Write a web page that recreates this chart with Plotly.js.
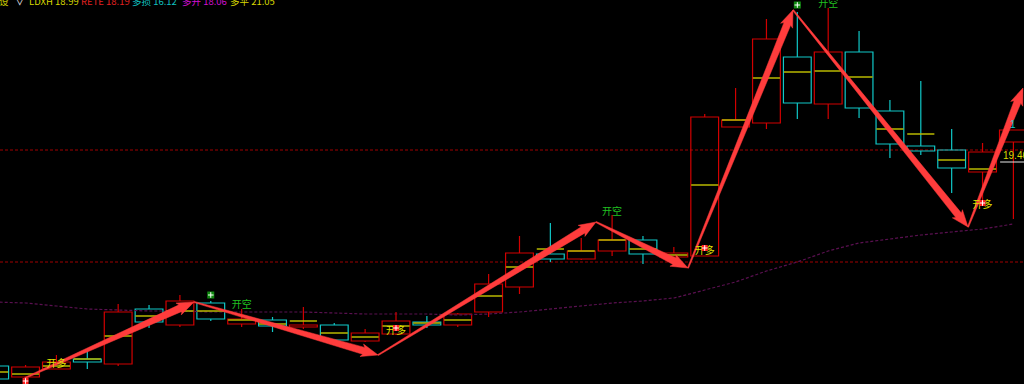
<!DOCTYPE html>
<html><head><meta charset="utf-8">
<script src="https://cdn.plot.ly/plotly-3.0.1.min.js"></script>
<style>html,body{margin:0;padding:0;background:#000;}#chart{width:1024px;height:384px;}</style>
</head><body><div id="chart"></div>
<script>
// ---- data ----
const idx   = [1,2,3,4,5,6,7,8,9,10,11,12,13,14,15,16,17,18,19,20,21,22,23,24,25,26,27,28,29,30,31,32,33,34];
const open  = [17.42,17.31,17.39,17.49,17.44,17.99,17.83,18.05,17.84,17.88,17.81,17.83,17.67,17.74,17.86,17.83,17.96,18.21,18.54,18.49,18.57,18.68,18.51,18.52,19.81,19.85,20.51,20.04,20.56,19.97,19.62,19.58,19.36,19.66];
const high  = [17.44,17.43,17.53,17.58,18.04,18.03,18.13,18.07,17.99,17.91,18.01,17.85,17.79,17.96,17.92,17.95,18.34,18.72,18.85,18.70,18.93,18.72,18.61,19.94,20.20,20.89,20.96,21.00,20.77,20.08,20.27,19.79,19.65,19.78];
const low   = [17.27,17.31,17.39,17.39,17.42,17.80,17.81,17.87,17.81,17.76,17.79,17.67,17.66,17.73,17.80,17.81,17.91,18.14,18.46,18.48,18.52,18.44,18.50,18.52,19.81,19.79,19.89,19.89,19.90,19.50,19.53,19.15,19.08,18.89];
const close = [17.29,17.41,17.46,17.46,17.96,17.86,18.07,17.89,17.89,17.82,17.83,17.68,17.75,17.87,17.83,17.94,18.24,18.55,18.49,18.57,18.68,18.54,18.55,19.91,19.88,20.69,20.05,20.56,20.00,19.64,19.57,19.40,19.56,19.78];
const midLine = [17.36,17.34,17.42,17.49,17.72,17.92,17.97,17.97,17.88,17.84,17.87,17.75,17.71,17.82,17.85,17.88,18.12,18.41,18.59,18.57,18.68,18.59,18.53,19.23,19.88,20.30,20.36,20.37,20.31,19.79,19.74,19.48,19.39,null];
const maLine = [18.06,18.05,18.02,17.99,17.98,17.97,17.97,17.96,17.96,17.96,17.96,17.95,17.94,17.94,17.94,17.93,17.94,17.96,17.99,18.02,18.05,18.07,18.10,18.18,18.26,18.37,18.46,18.57,18.65,18.69,18.73,18.76,18.79,18.84];
const pivotX = [1.98, 7.46, 13.42, 20.48, 23.46, 26.86, 32.53, 34.31];
const pivotY = [17.30, 18.06, 17.53, 18.86, 18.40, 20.98, 18.81, 20.20];
const refLines = [19.58, 18.46];
const lastPrice = 19.46;
const longMarkX = [2, 14, 24, 33];
const longMarkY = [17.27, 17.80, 18.60, 19.05];
const longTextX = [3, 14, 24, 33];
const longTextY = [17.44, 17.77, 18.57, 19.03];
const shortMarkX = [8, 27];
const shortMarkY = [18.13, 21.03];
const shortTextX = [9, 21, 28];
const shortTextY = [18.03, 18.96, 21.04];
const legendItems = ['设', '∨', 'LDXH 18.99', 'RETE 18.19', '多损 16.12', '多开 18.06', '多平 21.05'];
const legendColors = ['#c8c800', '#e0e0e0', '#d8d800', '#e02020', '#10c0c0', '#d010d0', '#d8d800'];
const legendPos = [-3, 13, 27, 79, 130, 180, 228];

// ---- geometry ----
const X0 = 1.172, X1 = 34.343, Y0 = 17.24, Y1 = 21.08, W = 1024, H = 384;
const RED = '#d20000', CYAN = '#10c8c8', YEL = '#b8b800';
const toPx = (x, y) => [(x - X0) / (X1 - X0) * W, (Y1 - y) / (Y1 - Y0) * H];
const toData = (px, py) => [X0 + px / W * (X1 - X0), Y1 - py / H * (Y1 - Y0)];

const up = idx.map((_, i) => close[i] >= open[i]);
const traces = [];

// MA line
traces.push({type:'scatter', mode:'lines', x: idx, y: maLine, line:{color:'#5a1050', width:1.2, dash:'3px,2px'}, hoverinfo:'skip'});

// candle bodies
traces.push({type:'bar', x: idx, base: idx.map((_, i) => Math.min(open[i], close[i])),
  y: idx.map((_, i) => Math.max(Math.abs(close[i] - open[i]), 0.005)), width: 0.9,
  marker:{color:'rgba(0,0,0,0)', line:{color: up.map(u => u ? RED : CYAN), width:1.2}}, hoverinfo:'skip'});

// wicks
[true, false].forEach(flag => {
  const wx = [], wy = [];
  idx.forEach((x, i) => {
    if (up[i] !== flag) return;
    const top = Math.max(open[i], close[i]), bot = Math.min(open[i], close[i]);
    if (high[i] > top) { wx.push(x, x, null); wy.push(high[i], top, null); }
    if (low[i] < bot) { wx.push(x, x, null); wy.push(bot, low[i], null); }
  });
  traces.push({type:'scatter', mode:'lines', x: wx, y: wy, line:{color: flag ? RED : CYAN, width:1.2}, hoverinfo:'skip'});
});

// yellow middle lines
{
  const mx = [], my = [];
  idx.forEach((x, i) => { if (midLine[i] != null) { mx.push(x - 0.44, x + 0.44, null); my.push(midLine[i], midLine[i], null); } });
  traces.push({type:'scatter', mode:'lines', x: mx, y: my, line:{color: YEL, width:1.5}, hoverinfo:'skip'});
}

// tapered arrows
for (let k = 0; k < pivotX.length - 1; k++) {
  const [tx, ty] = toPx(pivotX[k], pivotY[k]);
  const [hx, hy] = toPx(pivotX[k + 1], pivotY[k + 1]);
  const L = Math.hypot(hx - tx, hy - ty);
  const ux = (hx - tx) / L, uy = (hy - ty) / L, nx = -uy, ny = ux;
  const headLen = 15, headW = 6.5, shaftW = 3.6, tailW = 0.6;
  const bx = hx - ux * headLen, by = hy - uy * headLen;
  const pts = [
    [tx + nx * tailW, ty + ny * tailW],
    [bx + nx * shaftW, by + ny * shaftW],
    [bx - ux * 2 + nx * headW, by - uy * 2 + ny * headW],
    [hx, hy],
    [bx - ux * 2 - nx * headW, by - uy * 2 - ny * headW],
    [bx - nx * shaftW, by - ny * shaftW],
    [tx - nx * tailW, ty - ny * tailW]
  ].map(p => toData(p[0], p[1]));
  pts.push(pts[0]);
  traces.push({type:'scatter', mode:'lines', x: pts.map(p => p[0]), y: pts.map(p => p[1]),
    fill:'toself', fillcolor:'#ff3c3c', line:{color:'#ff3c3c', width:0.5}, hoverinfo:'skip'});
}

// signal labels
traces.push({type:'scatter', mode:'text', x: longTextX, y: longTextY, text: longTextX.map(() => '开多'),
  textfont:{family:'Noto Sans CJK SC', size:10, color:'#e0e000'}, hoverinfo:'skip'});
traces.push({type:'scatter', mode:'text', x: shortTextX, y: shortTextY, text: shortTextX.map(() => '开空'),
  textfont:{family:'Noto Sans CJK SC', size:10, color:'#20c020'}, hoverinfo:'skip'});

// signal markers
traces.push({type:'scatter', mode:'markers', x: longMarkX, y: longMarkY, marker:{symbol:'square', size:6, color:'#ff2020'}, hoverinfo:'skip'});
traces.push({type:'scatter', mode:'markers', x: longMarkX, y: longMarkY, marker:{symbol:'cross-thin', size:4, line:{color:'#ffffff', width:1}}, hoverinfo:'skip'});
traces.push({type:'scatter', mode:'markers', x: shortMarkX, y: shortMarkY, marker:{symbol:'square', size:7, color:'#108a10'}, hoverinfo:'skip'});
traces.push({type:'scatter', mode:'markers', x: shortMarkX, y: shortMarkY, marker:{symbol:'cross-thin', size:4, line:{color:'#ffffff', width:1}}, hoverinfo:'skip'});

const shapes = refLines.map(v => ({type:'line', xref:'paper', x0:0, x1:1, yref:'y', y0:v, y1:v, layer:'below',
  line:{color:'#a00000', width:1, dash:'3px,2px'}}));
shapes.push({type:'line', xref:'x', x0:33.57, x1:X1, yref:'y', y0:lastPrice, y1:lastPrice, line:{color:'#e8e8e8', width:1}});

const annotations = legendItems.map((t, i) => ({xref:'paper', yref:'paper', x: legendPos[i] / W, y: 1.0,
  xanchor:'left', yanchor:'middle', text: t, showarrow:false, yshift:-1,
  font:{family:'Noto Sans CJK SC', size:9.5, color: legendColors[i]}}));
annotations.push({xref:'x', yref:'y', x: 33.6, y: lastPrice, xanchor:'left', yanchor:'bottom', yshift:-1,
  text: lastPrice.toFixed(2), showarrow:false, font:{family:'Liberation Sans', size:10, color:'#d8d800'}});
annotations.push({xref:'x', yref:'y', x: 34, y: 19.84, xanchor:'center', yanchor:'middle',
  text:'1', showarrow:false, font:{family:'Liberation Sans', size:10, color:CYAN}});

const layout = {
  width: W, height: H, margin:{l:0, r:0, t:0, b:0, pad:0},
  paper_bgcolor:'#000', plot_bgcolor:'#000', showlegend:false, barmode:'overlay',
  xaxis:{range:[X0, X1], visible:false, fixedrange:true},
  yaxis:{range:[Y0, Y1], visible:false, fixedrange:true},
  shapes, annotations
};
Plotly.newPlot('chart', traces, layout, {staticPlot:true, displayModeBar:false});
</script>
</body></html>
